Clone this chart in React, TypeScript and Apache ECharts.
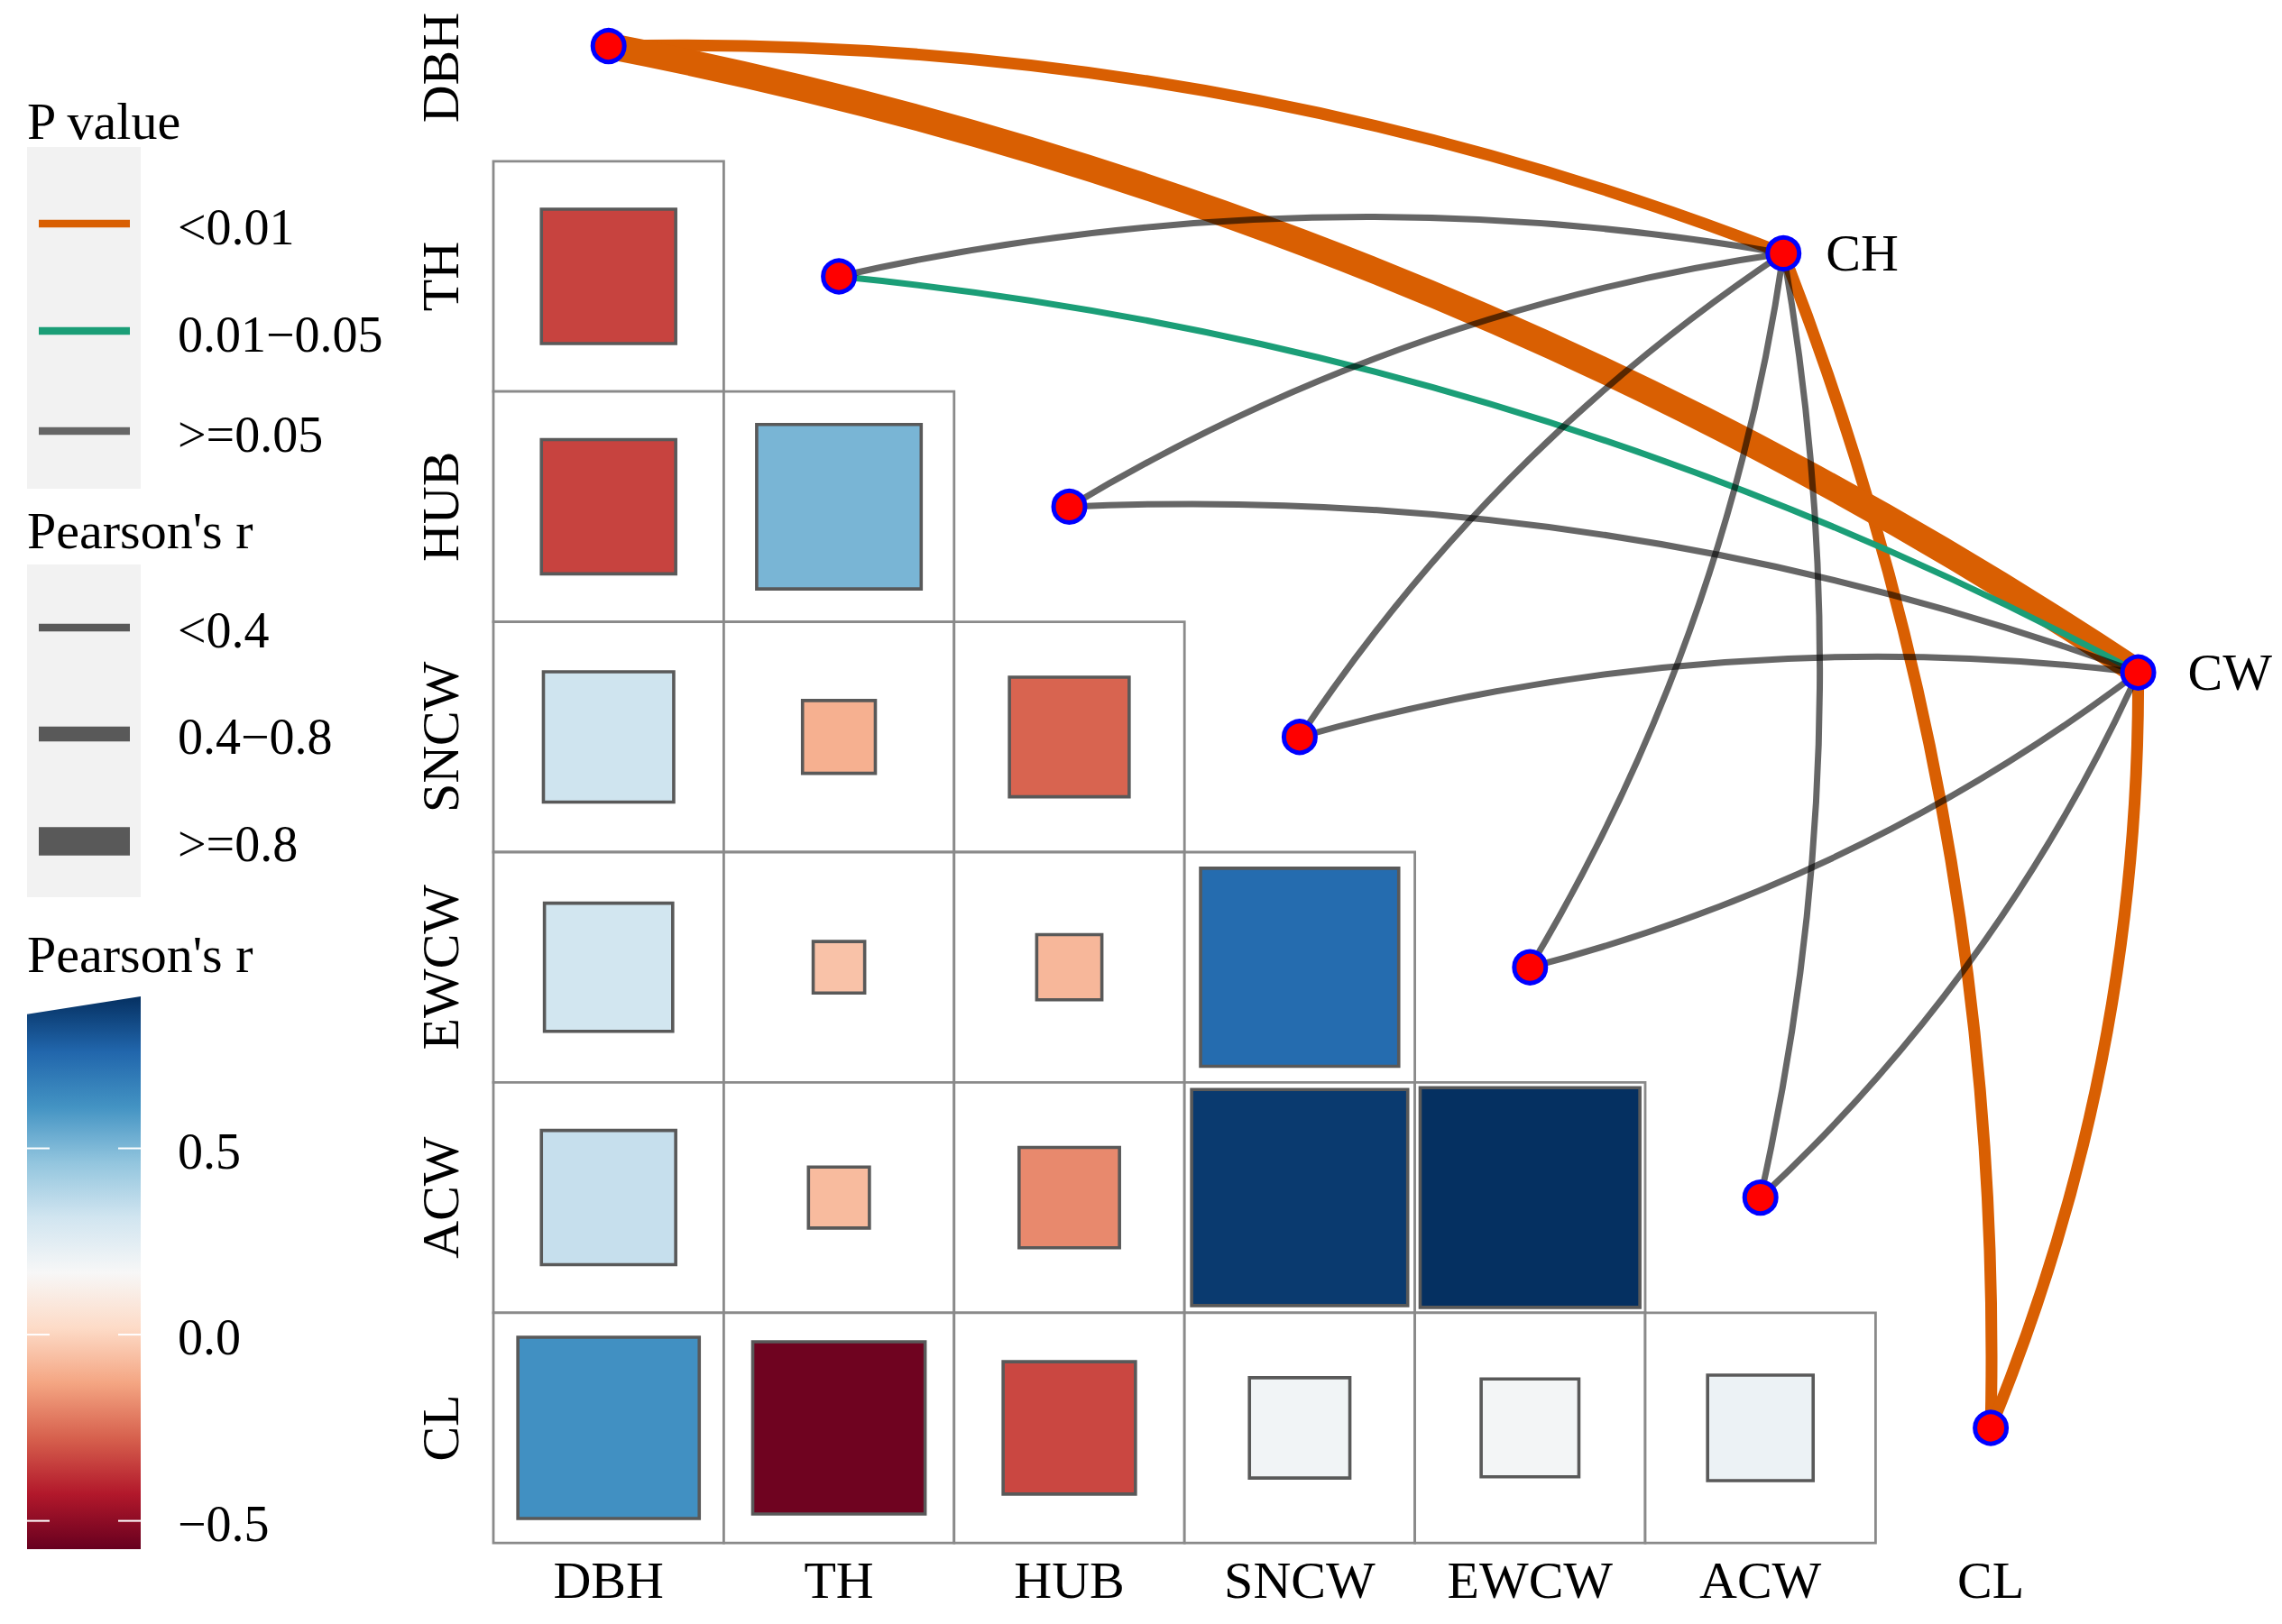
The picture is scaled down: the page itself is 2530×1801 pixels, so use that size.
import React, { useEffect, useRef } from "react";
import * as echarts from "echarts";

// ---------------- data ----------------
const varNames = ["DBH", "TH", "HUB", "SNCW", "EWCW", "ACW", "CL"];

// lower-triangle Pearson's r (row variable vs columns DBH.. in order)
const corrTH = [-0.34];
const corrHUB = [-0.34, 0.51];
const corrSNCW = [0.32, -0.1, -0.27];
const corrEWCW = [0.31, -0.05, -0.08, 0.74];
const corrACW = [0.34, -0.07, -0.19, 0.88, 0.91];
const corrCL = [0.62, -0.56, -0.33, 0.19, 0.18, 0.21];
const corrRows = [[], corrTH, corrHUB, corrSNCW, corrEWCW, corrACW, corrCL];

const envNames = ["CH", "CW"];
const envX = [5.1, 6.64];
const envY = [0.9, 2.72];

const linkEnv = ["CH", "CH", "CH", "CH", "CH", "CH", "CH", "CW", "CW", "CW", "CW", "CW", "CW", "CW"];
const linkVar = ["DBH", "TH", "HUB", "SNCW", "EWCW", "ACW", "CL", "DBH", "TH", "HUB", "SNCW", "EWCW", "ACW", "CL"];
const linkP = ["<0.01", ">=0.05", ">=0.05", ">=0.05", ">=0.05", ">=0.05", "<0.01",
  "<0.01", "0.01-0.05", ">=0.05", ">=0.05", ">=0.05", ">=0.05", "<0.01"];
const linkR = ["0.4-0.8", "<0.4", "<0.4", "<0.4", "<0.4", "<0.4", "0.4-0.8",
  ">=0.8", "<0.4", "<0.4", "<0.4", "<0.4", "<0.4", "0.4-0.8"];

const pLevels = ["<0.01", "0.01-0.05", ">=0.05"];
const pLabels = ["<0.01", "0.01\u22120.05", ">=0.05"];
const rLevels = ["<0.4", "0.4-0.8", ">=0.8"];
const rLabels = ["<0.4", "0.4\u22120.8", ">=0.8"];
const colorTicks = [0.5, 0.0, -0.5];
const colorTickLabels = ["0.5", "0.0", "\u22120.5"];
const colorMin = -0.576;
const colorMax = 0.908;

// ---------------- styles ----------------
const FONT = "'Liberation Serif', 'Times New Roman', 'DejaVu Serif', serif";
const RDBU = ["#67001f", "#b2182b", "#d6604d", "#f4a582", "#fddbc7", "#f7f7f7",
  "#d1e5f0", "#92c5de", "#4393c3", "#2166ac", "#053061"];
const pColors = ["#D95F02", "#1B9E77", "rgba(0,0,0,0.6)"];
const pLegendColors = ["#D95F02", "#1B9E77", "#666666"];
const rWidths = [7, 13, 29];
const rLegendWidths = [8.3, 16.7, 31.7];
const curvature = [0.1, 0.1, 0.1, 0.1, -0.1, -0.1, -0.1, 0.1, 0.1, 0.1, 0.1, -0.1, -0.1, -0.1];
const envLabelDist = [27, 35];

export default function App() {
  const ref = useRef<HTMLDivElement>(null);

  useEffect(() => {
    if (!ref.current) return;
    const chart = echarts.init(ref.current, undefined, { renderer: "svg" });

    const cellData: number[][] = [];
    corrRows.forEach((row, r) => row.forEach((v, c) => cellData.push([c, r, v])));

    const order = linkP
      .map((_, i) => i)
      .sort((a, b) => pLevels.indexOf(linkP[a]) - pLevels.indexOf(linkP[b]) || a - b);
    const linkData = order.map((i) => {
      const e = envNames.indexOf(linkEnv[i]);
      const v = varNames.indexOf(linkVar[i]);
      return {
        coords: [[v, v], [envX[e], envY[e]]],
        lineStyle: {
          color: pColors[pLevels.indexOf(linkP[i])],
          width: rWidths[rLevels.indexOf(linkR[i])],
          curveness: curvature[i],
          opacity: 1,
        },
      };
    });

    const nodeData: any[] = [
      ...varNames.map((n, i) => ({ name: n, value: [i, i] })),
      ...envNames.map((n, e) => ({
        name: n,
        value: [envX[e], envY[e]],
        label: {
          show: true,
          position: "right",
          distance: envLabelDist[e],
          formatter: n,
          fontSize: 58,
          fontFamily: FONT,
          color: "#000",
        },
      })),
    ];

    // ---------- legends (graphic) ----------
    const g: any[] = [];
    const txt = (text: string, x: number, y: number, size = 56) => ({
      type: "text",
      x,
      y,
      silent: true,
      style: {
        text,
        fill: "#000",
        fontSize: size,
        fontFamily: FONT,
        align: "left",
        textAlign: "left",
        verticalAlign: "middle",
        textVerticalAlign: "middle",
      },
    });
    // P value legend
    g.push(txt("P value", 30, 134, 58));
    g.push({ type: "rect", silent: true, shape: { x: 30, y: 163, width: 126, height: 379 }, style: { fill: "#F2F2F2" } });
    const pY = [248, 367, 478];
    pLabels.forEach((lab, k) => {
      g.push({ type: "line", silent: true, shape: { x1: 43, y1: pY[k], x2: 144, y2: pY[k] }, style: { stroke: pLegendColors[k], lineWidth: 8.7 } });
      g.push(txt(lab, 197, pY[k] + 4));
    });
    // Pearson's r width legend
    g.push(txt("Pearson's r", 30, 588, 58));
    g.push({ type: "rect", silent: true, shape: { x: 30, y: 626, width: 126, height: 369 }, style: { fill: "#F2F2F2" } });
    const rY = [696, 814, 933];
    rLabels.forEach((lab, k) => {
      g.push({ type: "line", silent: true, shape: { x1: 43, y1: rY[k], x2: 144, y2: rY[k] }, style: { stroke: "#595959", lineWidth: rLegendWidths[k] } });
      g.push(txt(lab, 197, rY[k] + 3));
    });
    // colour bar
    g.push(txt("Pearson's r", 30, 1058, 58));
    const cbBottom = 1718;
    const cbTop = 1105;
    const yOf = (v: number) => cbBottom - ((v - colorMin) / (colorMax - colorMin)) * (cbBottom - cbTop);
    const stops = RDBU.map((c, k) => ({ offset: 1 - k / (RDBU.length - 1), color: c })).reverse();
    g.push({
      type: "polygon",
      silent: true,
      shape: { points: [[30, yOf(0.86)], [156, cbTop], [156, cbBottom], [30, cbBottom]] },
      style: { fill: new echarts.graphic.LinearGradient(0, 0, 0, 1, stops) },
    });
    colorTicks.forEach((v, k) => {
      const y = yOf(v);
      g.push({ type: "line", silent: true, shape: { x1: 30, y1: y, x2: 55, y2: y }, style: { stroke: "#fff", lineWidth: 2 } });
      g.push({ type: "line", silent: true, shape: { x1: 131, y1: y, x2: 156, y2: y }, style: { stroke: "#fff", lineWidth: 2 } });
      g.push(txt(colorTickLabels[k], 197, y + 3));
    });

    const labelCustom = [0, 1, 2, 3, 4, 5, 6];

    chart.setOption({
      animation: false,
      backgroundColor: "#fff",
      textStyle: { fontFamily: FONT },
      grid: { left: 547, top: 0, width: 1787.8, height: 1711.2, containLabel: false },
      xAxis: {
        type: "value",
        min: -0.5,
        max: 6.5,
        axisLine: { show: false },
        axisTick: { show: false },
        splitLine: { show: false },
        axisLabel: {
          customValues: labelCustom,
          formatter: (v: number) => varNames[Math.round(v)],
          fontSize: 58,
          fontFamily: FONT,
          color: "#000",
          margin: 12,
        },
      },
      yAxis: {
        type: "value",
        inverse: true,
        min: -0.2,
        max: 6.5,
        axisLine: { show: false },
        axisTick: { show: false },
        splitLine: { show: false },
        axisLabel: {
          customValues: labelCustom,
          rotate: 90,
          formatter: (v: number) => {
            const i = Math.round(v);
            return i === 0 ? "{s|" + varNames[i] + "}" : varNames[i];
          },
          fontSize: 58,
          fontFamily: FONT,
          color: "#000",
          margin: 30,
          rich: {
            s: { fontSize: 58, fontFamily: FONT, color: "#000", padding: [0, 48, 0, 0] },
          },
        },
      },
      visualMap: {
        type: "continuous",
        show: false,
        min: colorMin,
        max: colorMax,
        dimension: 2,
        seriesIndex: 0,
        inRange: { color: RDBU },
      },
      graphic: g,
      series: [
        {
          type: "custom",
          coordinateSystem: "cartesian2d",
          clip: false,
          silent: true,
          z: 1,
          data: cellData,
          encode: { x: 0, y: 1 },
          renderItem: (params: any, api: any) => {
            const c = api.coord([api.value(0), api.value(1)]);
            const w = api.size([1, 1])[0];
            const v = api.value(2);
            const s = Math.sqrt(Math.abs(v)) * w;
            return {
              type: "group",
              children: [
                {
                  type: "rect",
                  shape: { x: c[0] - w / 2, y: c[1] - w / 2, width: w, height: w },
                  style: { fill: "#fff", stroke: "#8a8a8a", lineWidth: 2.8 },
                },
                {
                  type: "rect",
                  shape: { x: c[0] - s / 2, y: c[1] - s / 2, width: s, height: s },
                  style: { fill: api.visual("color"), stroke: "#595959", lineWidth: 3.6 },
                },
              ],
            };
          },
        },
        {
          type: "lines",
          coordinateSystem: "cartesian2d",
          clip: false,
          silent: true,
          z: 3,
          symbol: ["none", "none"],
          lineStyle: { opacity: 1, cap: "butt" },
          data: linkData,
        },
        {
          type: "scatter",
          clip: false,
          silent: true,
          z: 5,
          symbol: "circle",
          symbolSize: 35,
          itemStyle: { color: "#FF0000", borderColor: "#0000FF", borderWidth: 5, opacity: 1 },
          label: { show: false },
          data: nodeData,
        },
      ],
    });

    return () => chart.dispose();
  }, []);

  return (
    <div
      ref={ref}
      style={{ position: "absolute", left: 0, top: 0, width: 2530, height: 1801, background: "#fff" }}
    />
  );
}
